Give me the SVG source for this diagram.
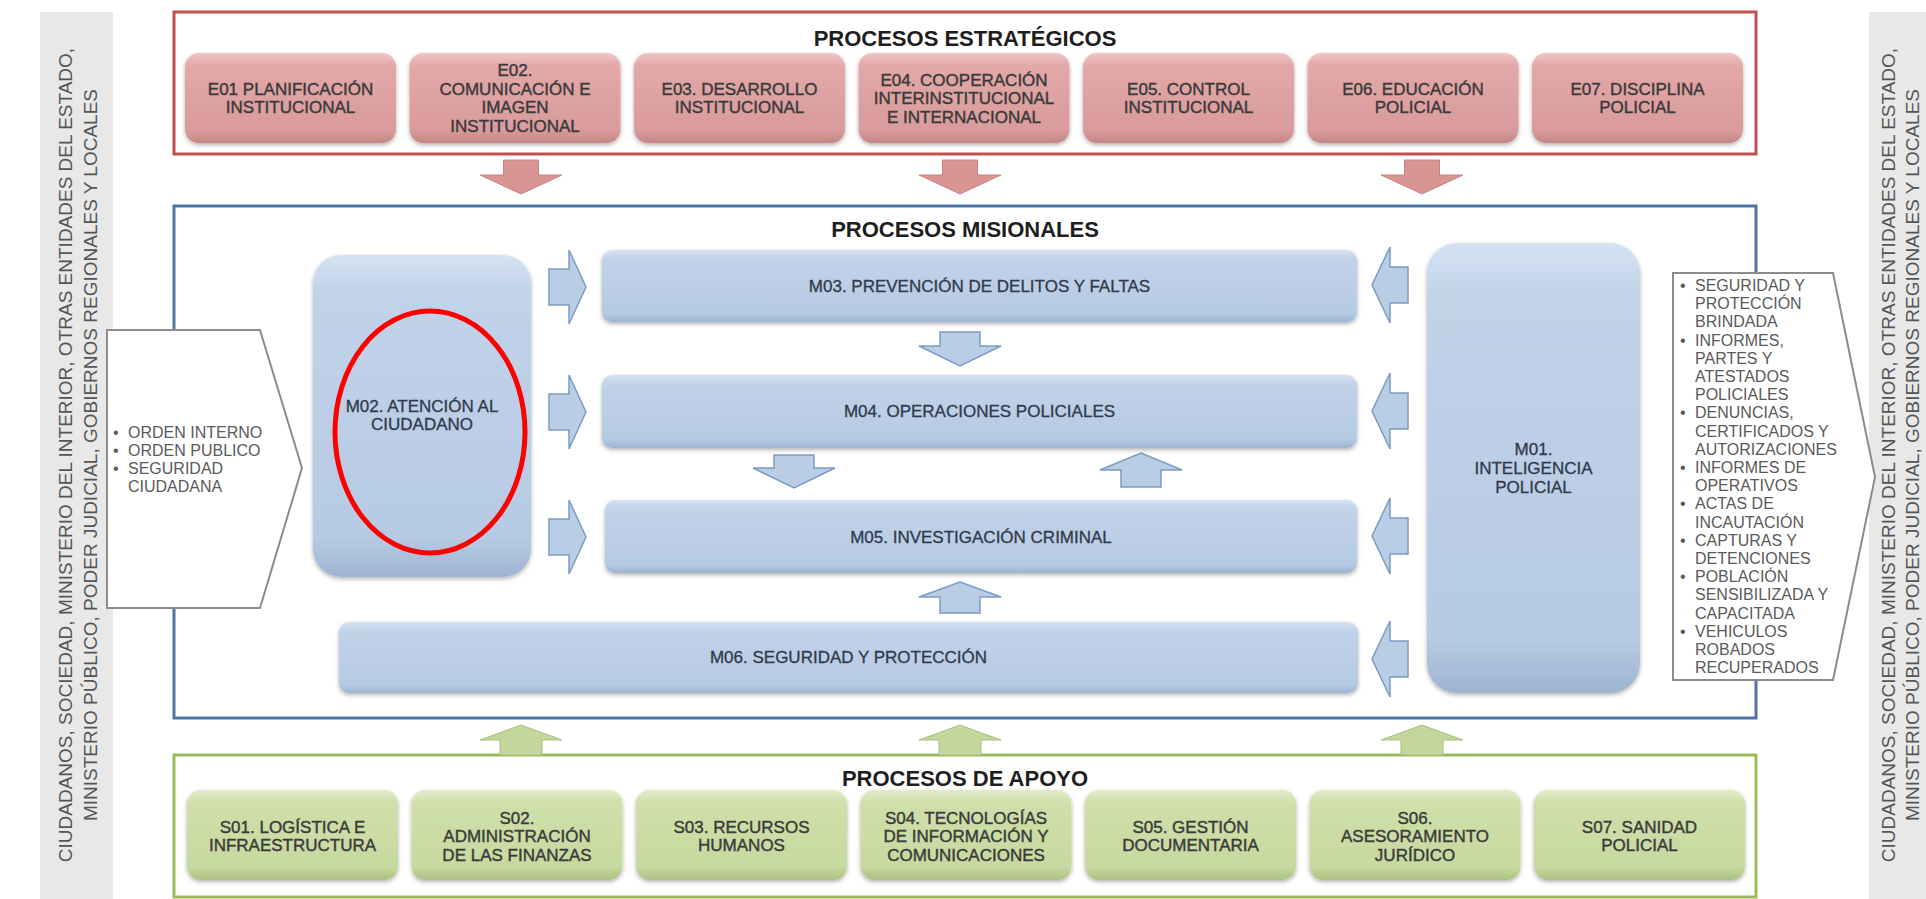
<svg xmlns="http://www.w3.org/2000/svg" width="1926" height="899" viewBox="0 0 1926 899">
<defs>
<linearGradient id="gE" x1="0" y1="0" x2="0" y2="1">
<stop offset="0" stop-color="#f1c6c5"/><stop offset="0.14" stop-color="#e3a8a8"/><stop offset="0.86" stop-color="#d99b9b"/><stop offset="1" stop-color="#c48584"/>
</linearGradient>
<linearGradient id="gM" x1="0" y1="0" x2="0" y2="1">
<stop offset="0" stop-color="#d6e2f1"/><stop offset="0.12" stop-color="#c1d3e9"/><stop offset="0.88" stop-color="#b6cae3"/><stop offset="1" stop-color="#9db4d1"/>
</linearGradient>
<linearGradient id="gS" x1="0" y1="0" x2="0" y2="1">
<stop offset="0" stop-color="#e2ecc9"/><stop offset="0.14" stop-color="#d0dfab"/><stop offset="0.86" stop-color="#c6d99e"/><stop offset="1" stop-color="#abc183"/>
</linearGradient>
<filter id="sh" x="-10%" y="-10%" width="120%" height="130%">
<feDropShadow dx="0" dy="2" stdDeviation="2" flood-color="#000" flood-opacity="0.3"/>
</filter>
</defs>
<style>
text{font-family:"Liberation Sans",Arial,sans-serif}
.eb{fill:url(#gE);filter:url(#sh)}
.mb{fill:url(#gM);filter:url(#sh)}
.sb{fill:url(#gS);filter:url(#sh)}
.bt{font-size:17px;text-anchor:middle;fill:#3a3a3a;stroke:#3a3a3a;stroke-width:0.4}
.mt{font-size:17px;text-anchor:middle;fill:#2f3a4a;stroke:#2f3a4a;stroke-width:0.3}
.ti{font-size:22px;font-weight:bold;text-anchor:middle;fill:#1e1e1e}
.li{font-size:16px;fill:#5a5a5a}
.bd{font-size:19px;text-anchor:middle;fill:#555}
.band{fill:#e8e8e8}
.ra{fill:#d99593;stroke:#c98381;stroke-width:1}
.ba{fill:#b9cde5;stroke:#7c9cc4;stroke-width:1.5}
.ga{fill:#c3d69b;stroke:#a9c07c;stroke-width:1}
.io{fill:#fff;stroke:#8c8c8c;stroke-width:2}
</style>
<rect width="1926" height="899" fill="#fff"/>

<g id="band-left">
<rect class="band" x="40" y="12" width="73" height="887"/>
<text class="bd" transform="translate(72,455) rotate(-90)">CIUDADANOS, SOCIEDAD, MINISTERIO DEL INTERIOR, OTRAS ENTIDADES DEL ESTADO,</text>
<text class="bd" transform="translate(97,455) rotate(-90)">MINISTERIO PÚBLICO, PODER JUDICIAL, GOBIERNOS REGIONALES Y LOCALES</text>
</g>
<g id="band-right">
<rect class="band" x="1869" y="12" width="57" height="887"/>
<text class="bd" transform="translate(1895,455) rotate(-90)">CIUDADANOS, SOCIEDAD, MINISTERIO DEL INTERIOR, OTRAS ENTIDADES DEL ESTADO,</text>
<text class="bd" transform="translate(1919,455) rotate(-90)">MINISTERIO PÚBLICO, PODER JUDICIAL, GOBIERNOS REGIONALES Y LOCALES</text>
</g>

<g id="frame-estrategicos">
<rect x="174" y="12" width="1582" height="142" fill="none" stroke="#c0504d" stroke-width="3"/>
<text class="ti" x="965" y="46">PROCESOS ESTRATÉGICOS</text>
</g>
<g id="frame-misionales">
<rect x="174" y="206" width="1582" height="512" fill="none" stroke="#4f74a3" stroke-width="3"/>
<text class="ti" x="965" y="237">PROCESOS MISIONALES</text>
</g>
<g id="frame-apoyo">
<rect x="174" y="755" width="1582" height="142" fill="none" stroke="#9bbb59" stroke-width="3"/>
<text class="ti" x="965" y="786">PROCESOS DE APOYO</text>
</g>

<g id="E01"><rect class="eb" x="185" y="53" width="211" height="90" rx="14"/>
<text class="bt" x="290.5" y="94.8">E01 PLANIFICACIÓN</text><text class="bt" x="290.5" y="113.3">INSTITUCIONAL</text></g>
<g id="E02"><rect class="eb" x="409.5" y="53" width="211" height="90" rx="14"/>
<text class="bt" x="515" y="76.3">E02.</text><text class="bt" x="515" y="94.8">COMUNICACIÓN E</text><text class="bt" x="515" y="113.3">IMAGEN</text><text class="bt" x="515" y="131.8">INSTITUCIONAL</text></g>
<g id="E03"><rect class="eb" x="634" y="53" width="211" height="90" rx="14"/>
<text class="bt" x="739.5" y="94.8">E03. DESARROLLO</text><text class="bt" x="739.5" y="113.3">INSTITUCIONAL</text></g>
<g id="E04"><rect class="eb" x="858.5" y="53" width="211" height="90" rx="14"/>
<text class="bt" x="964" y="85.5">E04. COOPERACIÓN</text><text class="bt" x="964" y="104">INTERINSTITUCIONAL</text><text class="bt" x="964" y="122.5">E INTERNACIONAL</text></g>
<g id="E05"><rect class="eb" x="1083" y="53" width="211" height="90" rx="14"/>
<text class="bt" x="1188.5" y="94.8">E05. CONTROL</text><text class="bt" x="1188.5" y="113.3">INSTITUCIONAL</text></g>
<g id="E06"><rect class="eb" x="1307.5" y="53" width="211" height="90" rx="14"/>
<text class="bt" x="1413" y="94.8">E06. EDUCACIÓN</text><text class="bt" x="1413" y="113.3">POLICIAL</text></g>
<g id="E07"><rect class="eb" x="1532" y="53" width="211" height="90" rx="14"/>
<text class="bt" x="1637.5" y="94.8">E07. DISCIPLINA</text><text class="bt" x="1637.5" y="113.3">POLICIAL</text></g>

<g id="input">
<polygon class="io" points="107,330 260,330 302,468 260,608 107,608"/>
<text class="li" x="113" y="438">•</text><text class="li" x="128" y="438">ORDEN INTERNO</text>
<text class="li" x="113" y="456">•</text><text class="li" x="128" y="456">ORDEN PUBLICO</text>
<text class="li" x="113" y="474">•</text><text class="li" x="128" y="474">SEGURIDAD</text>
<text class="li" x="128" y="492">CIUDADANA</text>
</g>

<g id="M02"><rect class="mb" x="313" y="255" width="218" height="322" rx="28"/>
<text class="mt" x="422" y="412">M02. ATENCIÓN AL</text><text class="mt" x="422" y="430">CIUDADANO</text></g>
<g id="M03"><rect class="mb" x="602" y="250" width="755" height="72" rx="10"/>
<text class="mt" x="979.5" y="292">M03. PREVENCIÓN DE DELITOS Y FALTAS</text></g>
<g id="M04"><rect class="mb" x="602" y="375" width="755" height="73" rx="10"/>
<text class="mt" x="979.5" y="417">M04. OPERACIONES POLICIALES</text></g>
<g id="M05"><rect class="mb" x="605" y="500" width="752" height="73" rx="10"/>
<text class="mt" x="981" y="543">M05. INVESTIGACIÓN CRIMINAL</text></g>
<g id="M06"><rect class="mb" x="339" y="622" width="1019" height="71" rx="10"/>
<text class="mt" x="848.5" y="663">M06. SEGURIDAD Y PROTECCIÓN</text></g>
<g id="M01"><rect class="mb" x="1427" y="243" width="213" height="450" rx="30"/>
<text class="mt" x="1533.5" y="455">M01.</text><text class="mt" x="1533.5" y="474">INTELIGENCIA</text><text class="mt" x="1533.5" y="493">POLICIAL</text></g>

<g id="output">
<polygon class="io" points="1673,273 1833,273 1875,477 1833,680 1673,680"/>
<g class="li">
<text x="1680" y="291">•</text><text x="1695" y="291">SEGURIDAD Y</text>
<text x="1695" y="309.2">PROTECCIÓN</text>
<text x="1695" y="327.4">BRINDADA</text>
<text x="1680" y="345.6">•</text><text x="1695" y="345.6">INFORMES,</text>
<text x="1695" y="363.8">PARTES Y</text>
<text x="1695" y="382">ATESTADOS</text>
<text x="1695" y="400.2">POLICIALES</text>
<text x="1680" y="418.4">•</text><text x="1695" y="418.4">DENUNCIAS,</text>
<text x="1695" y="436.6">CERTIFICADOS Y</text>
<text x="1695" y="454.8">AUTORIZACIONES</text>
<text x="1680" y="473">•</text><text x="1695" y="473">INFORMES DE</text>
<text x="1695" y="491.2">OPERATIVOS</text>
<text x="1680" y="509.4">•</text><text x="1695" y="509.4">ACTAS DE</text>
<text x="1695" y="527.6">INCAUTACIÓN</text>
<text x="1680" y="545.8">•</text><text x="1695" y="545.8">CAPTURAS Y</text>
<text x="1695" y="564">DETENCIONES</text>
<text x="1680" y="582.2">•</text><text x="1695" y="582.2">POBLACIÓN</text>
<text x="1695" y="600.4">SENSIBILIZADA Y</text>
<text x="1695" y="618.6">CAPACITADA</text>
<text x="1680" y="636.8">•</text><text x="1695" y="636.8">VEHICULOS</text>
<text x="1695" y="655">ROBADOS</text>
<text x="1695" y="673.2">RECUPERADOS</text>
</g>
</g>

<g id="S01"><rect class="sb" x="187" y="790" width="211" height="90" rx="14"/>
<text class="bt" x="292.5" y="832.8">S01. LOGÍSTICA E</text><text class="bt" x="292.5" y="851.3">INFRAESTRUCTURA</text></g>
<g id="S02"><rect class="sb" x="411.5" y="790" width="211" height="90" rx="14"/>
<text class="bt" x="517" y="823.5">S02.</text><text class="bt" x="517" y="842">ADMINISTRACIÓN</text><text class="bt" x="517" y="860.5">DE LAS FINANZAS</text></g>
<g id="S03"><rect class="sb" x="636" y="790" width="211" height="90" rx="14"/>
<text class="bt" x="741.5" y="832.8">S03. RECURSOS</text><text class="bt" x="741.5" y="851.3">HUMANOS</text></g>
<g id="S04"><rect class="sb" x="860.5" y="790" width="211" height="90" rx="14"/>
<text class="bt" x="966" y="823.5">S04. TECNOLOGÍAS</text><text class="bt" x="966" y="842">DE INFORMACIÓN Y</text><text class="bt" x="966" y="860.5">COMUNICACIONES</text></g>
<g id="S05"><rect class="sb" x="1085" y="790" width="211" height="90" rx="14"/>
<text class="bt" x="1190.5" y="832.8">S05. GESTIÓN</text><text class="bt" x="1190.5" y="851.3">DOCUMENTARIA</text></g>
<g id="S06"><rect class="sb" x="1309.5" y="790" width="211" height="90" rx="14"/>
<text class="bt" x="1415" y="823.5">S06.</text><text class="bt" x="1415" y="842">ASESORAMIENTO</text><text class="bt" x="1415" y="860.5">JURÍDICO</text></g>
<g id="S07"><rect class="sb" x="1534" y="790" width="211" height="90" rx="14"/>
<text class="bt" x="1639.5" y="832.8">S07. SANIDAD</text><text class="bt" x="1639.5" y="851.3">POLICIAL</text></g>

<g id="connectors">
<polygon class="ra" points="503.5,160 538.5,160 538.5,175 562,175 521,194 480,175 503.5,175"/>
<polygon class="ra" points="942.5,160 977.5,160 977.5,175 1001,175 960,194 919,175 942.5,175"/>
<polygon class="ra" points="1404.5,160 1439.5,160 1439.5,175 1463,175 1422,194 1381,175 1404.5,175"/>
<polygon class="ba" points="549,269 569,269 569,250 586,287 569,324 569,305 549,305"/>
<polygon class="ba" points="549,394 569,394 569,375 586,412 569,449 569,430 549,430"/>
<polygon class="ba" points="549,519 569,519 569,500 586,537 569,574 569,555 549,555"/>
<polygon class="ba" points="1408,267 1390,267 1390,247 1372,285 1390,323 1390,303 1408,303"/>
<polygon class="ba" points="1408,393 1390,393 1390,373 1372,411 1390,449 1390,429 1408,429"/>
<polygon class="ba" points="1408,518 1390,518 1390,498 1372,536 1390,574 1390,554 1408,554"/>
<polygon class="ba" points="1408,641 1390,641 1390,621 1372,659 1390,697 1390,677 1408,677"/>
<polygon class="ba" points="940,332 980,332 980,346 1001,346 960,366 919,346 940,346"/>
<polygon class="ba" points="774,455 814,455 814,468 835,468 794,488 753,468 774,468"/>
<polygon class="ba" points="1141,453 1182,470 1161,470 1161,487 1121,487 1121,470 1100,470"/>
<polygon class="ba" points="960,582 1001,597 980,597 980,613 940,613 940,597 919,597"/>
<polygon class="ga" points="521,725 562,740 542,740 542,755 500,755 500,740 480,740"/>
<polygon class="ga" points="960,725 1001,740 981,740 981,755 939,755 939,740 919,740"/>
<polygon class="ga" points="1422,725 1463,740 1443,740 1443,755 1401,755 1401,740 1381,740"/>
</g>

<g id="highlight">
<ellipse cx="430" cy="432" rx="95" ry="121" fill="none" stroke="#ff0000" stroke-width="5"/>
</g>
</svg>
